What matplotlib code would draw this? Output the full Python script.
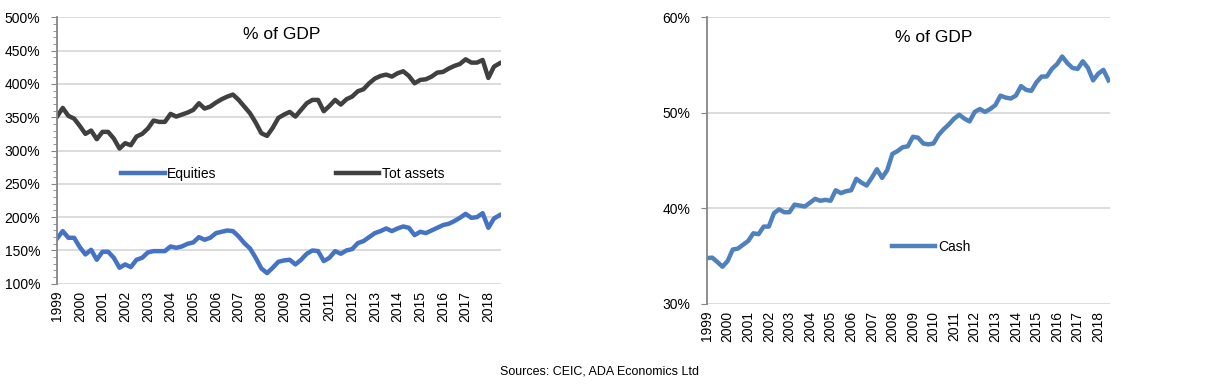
import numpy as np
from matplotlib import pyplot as plt
from matplotlib.ticker import FuncFormatter, MultipleLocator

plt.rcParams['font.family'] = ['Liberation Sans', 'DejaVu Sans']

# quarterly data, 1999Q1 - 2018Q3 (% of GDP)
years = [str(y) for y in range(1999, 2019)]

tot_assets = [351, 364, 352, 348, 337, 325, 330, 317, 328, 328,
              318, 303, 311, 308, 321, 325, 333, 345, 343, 343,
              355, 351, 354, 357, 361, 371, 363, 366, 372, 377,
              381, 384, 376, 366, 356, 342, 326, 322, 334, 349,
              354, 358, 351, 361, 371, 376, 376, 359, 367, 376,
              369, 377, 381, 389, 392, 401, 408, 412, 414, 411,
              416, 419, 412, 401, 406, 407, 411, 417, 418, 423,
              427, 430, 437, 432, 432, 436, 409, 426, 431]

equities = [168, 179, 169, 169, 155, 144, 151, 136, 148, 148,
            139, 124, 129, 125, 136, 139, 147, 149, 149, 149,
            156, 154, 156, 160, 162, 170, 166, 169, 176, 178,
            180, 179, 171, 161, 153, 139, 123, 116, 124, 133,
            135, 136, 129, 136, 145, 150, 149, 134, 139, 149,
            145, 150, 152, 161, 164, 170, 176, 179, 183, 179,
            183, 186, 184, 173, 178, 176, 180, 184, 188, 190,
            194, 199, 205, 199, 200, 206, 184, 198, 203]

cash = [34.8, 34.85, 34.4, 33.9, 34.5, 35.7, 35.8, 36.2, 36.6, 37.4,
        37.3, 38.1, 38.1, 39.5, 39.9, 39.6, 39.6, 40.4, 40.3, 40.2,
        40.6, 41.0, 40.8, 40.9, 40.8, 41.9, 41.6, 41.8, 41.9, 43.1,
        42.7, 42.4, 43.2, 44.1, 43.2, 44.0, 45.7, 46.0, 46.4, 46.5,
        47.5, 47.4, 46.8, 46.7, 46.8, 47.7, 48.3, 48.8, 49.4, 49.8,
        49.4, 49.1, 50.1, 50.4, 50.1, 50.4, 50.8, 51.8, 51.6, 51.5,
        51.8, 52.8, 52.4, 52.3, 53.2, 53.8, 53.8, 54.6, 55.1, 55.9,
        55.2, 54.7, 54.6, 55.4, 54.7, 53.4, 54.1, 54.5, 53.4]

x = np.arange(len(cash))
pct = FuncFormatter(lambda v, p: '{:.0f}%'.format(v))

fig = plt.figure(figsize=(12.14, 3.85), dpi=100)
ax1 = fig.add_axes([0.047, 0.263, 0.366, 0.692])
ax2 = fig.add_axes([0.5824, 0.2104, 0.332, 0.7447])


def style(ax, lo, hi, step):
    ax.set_xlim(0, 78.3)
    ax.set_ylim(lo, hi)
    ax.yaxis.set_major_locator(MultipleLocator(step))
    ax.yaxis.set_major_formatter(pct)
    ax.grid(axis='y', color='#d9d9d9', linewidth=1.3)
    ax.set_axisbelow(True)
    for s in ['top', 'right', 'bottom']:
        ax.spines[s].set_visible(False)
    ax.spines['left'].set_color('#868686')
    ax.spines['left'].set_linewidth(1.3)
    ax.set_xticks(x[::4])
    ax.set_xticklabels(years, rotation=90)
    ax.tick_params(axis='x', length=0, pad=5, labelsize=10)
    ax.tick_params(axis='y', which='both', direction='out', color='#868686',
                   labelsize=10, pad=8)


ax1.plot(x, equities, color='#4472c4', linewidth=3.2, label='Equities')
ax1.plot(x, tot_assets, color='#404040', linewidth=3.2, label='Tot assets')
style(ax1, 100, 500, 50)
ax1.yaxis.set_minor_locator(MultipleLocator(10))
ax1.tick_params(axis='y', which='major', length=4)
ax1.tick_params(axis='y', which='minor', length=3)
ax1.text(0.505, 0.937, '% of GDP', transform=ax1.transAxes, ha='center',
         va='center', fontsize=12.5)
ax1.legend(loc='center left', bbox_to_anchor=(0.145, 0.412), ncol=2,
           frameon=False, fontsize=10, handlelength=3.1, handletextpad=0.2,
           columnspacing=8.6, borderpad=0, borderaxespad=0)

ax2.plot(x, cash, color='#4f81bd', linewidth=3.2, label='Cash')
style(ax2, 30, 60, 10)
ax2.tick_params(axis='y', length=4)
ax2.text(0.563, 0.931, '% of GDP', transform=ax2.transAxes, ha='center',
         va='center', fontsize=12.5)
ax2.legend(loc='center left', bbox_to_anchor=(0.46, 0.199), frameon=False,
           fontsize=10, handlelength=3.1, handletextpad=0.2,
           borderpad=0, borderaxespad=0)

fig.text(0.494, 0.034, 'Sources: CEIC, ADA Economics Ltd', ha='center',
         va='center', fontsize=9)

plt.savefig('out.png', dpi=100)
